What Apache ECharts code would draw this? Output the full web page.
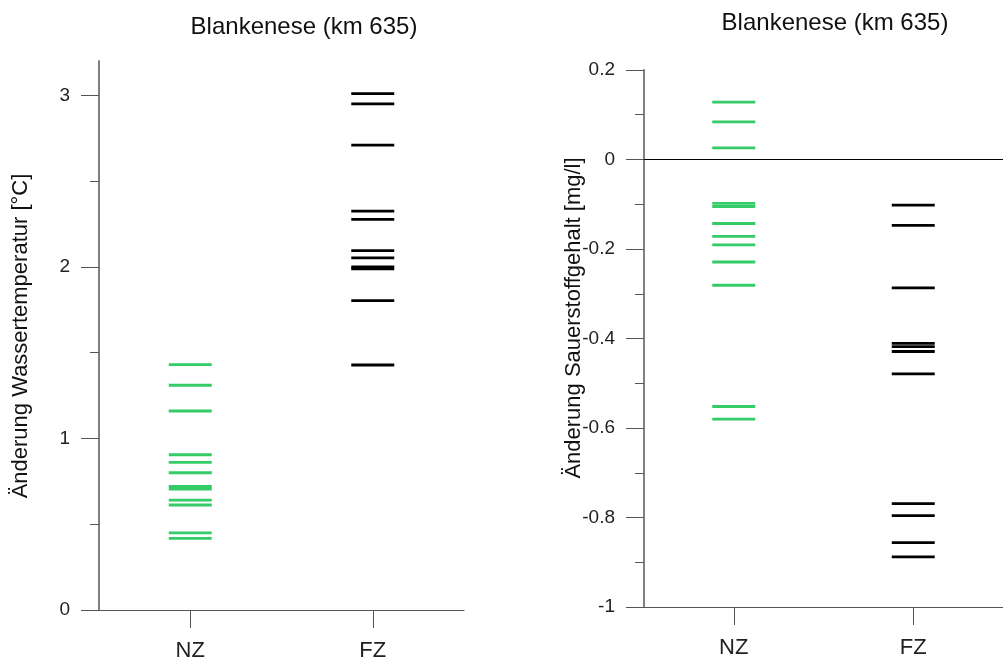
<!DOCTYPE html>
<html>
<head>
<meta charset="utf-8">
<script src="https://cdn.jsdelivr.net/npm/echarts@6/dist/echarts.min.js"></script>
<style>
  html, body { margin: 0; padding: 0; background: #fff; }
  #chart { width: 1003px; height: 662px; }
</style>
</head>
<body>
<div id="chart"></div>
<script>
// Kategorien
var categories = ['NZ', 'FZ'];

// Änderung Wassertemperatur [°C]
var tempNZ = [1.43, 1.31, 1.16, 0.905, 0.86, 0.80, 0.72, 0.705, 0.64, 0.612, 0.45, 0.417];
var tempFZ = [3.01, 2.95, 2.71, 2.325, 2.277, 2.095, 2.053, 2.0, 1.988, 1.803, 1.428];
var tempTicks = [0, 1, 2, 3];
var tempMinorTicks = [0.5, 1.5, 2.5];

// Änderung Sauerstoffgehalt [mg/l]
var oxyNZ = [0.128, 0.084, 0.026, -0.098, -0.105, -0.143, -0.172, -0.191, -0.229, -0.281, -0.552, -0.580];
var oxyFZ = [-0.102, -0.147, -0.287, -0.411, -0.418, -0.429, -0.479, -0.769, -0.796, -0.856, -0.888];

var FONT = '"Liberation Sans", Arial, sans-serif';
var GREEN = '#33cc66';

function toPoints(cat, values) {
  return values.map(function (v) { return [cat, v]; });
}

function xAxisOpt(gridIndex) {
  return {
    type: 'category',
    gridIndex: gridIndex,
    data: categories,
    boundaryGap: true,
    axisLine: { onZero: false, lineStyle: { color: '#555', width: 1.2 } },
    axisTick: { show: true, interval: 0, alignWithLabel: true, length: 18, lineStyle: { color: '#555', width: 1 } },
    axisLabel: { margin: 30, color: '#222', fontSize: 22, fontFamily: FONT },
    splitLine: { show: false }
  };
}

function yAxisOpt(gridIndex, min, max, interval) {
  return {
    type: 'value',
    gridIndex: gridIndex,
    min: min,
    max: max,
    interval: interval,
    axisLine: { show: true, onZero: false, lineStyle: { color: '#808080', width: 2 } },
    axisTick: { show: true, length: 18, lineStyle: { color: '#555', width: 1 } },
    minorTick: { show: true, splitNumber: 2, length: 9, lineStyle: { color: '#555', width: 1 } },
    axisLabel: { margin: 29, color: '#222', fontSize: 19, fontFamily: FONT },
    splitLine: { show: false }
  };
}

function dashSeries(xi, yi, cat, values, color) {
  return {
    type: 'scatter',
    xAxisIndex: xi,
    yAxisIndex: yi,
    symbol: 'rect',
    symbolSize: [43, 2.8],
    itemStyle: { color: color, opacity: 1 },
    emphasis: { disabled: true },
    data: toPoints(cat, values)
  };
}

// linke Achse: Haupt- und Nebenstriche getrennt, ohne Strich bei 3.2
var tempAxis = yAxisOpt(0, 0, 3.2, 1);
tempAxis.minorTick = { show: false };
tempAxis.axisTick.customValues = tempTicks;
tempAxis.axisLabel.customValues = tempTicks;

var tempMinorAxis = {
  type: 'value',
  gridIndex: 0,
  position: 'left',
  min: 0,
  max: 3.2,
  axisLine: { show: false },
  axisTick: { show: true, length: 9, customValues: tempMinorTicks, lineStyle: { color: '#555', width: 1 } },
  axisLabel: { show: false },
  splitLine: { show: false }
};

var chart = echarts.init(document.getElementById('chart'), null, { renderer: 'canvas' });

var zeroLineSeries = dashSeries(1, 1, 'NZ', oxyNZ, GREEN);
zeroLineSeries.markLine = {
  silent: true,
  symbol: 'none',
  label: { show: false },
  lineStyle: { color: '#000', width: 1, type: 'solid' },
  data: [{ yAxis: 0 }]
};

var option = {
  backgroundColor: '#fff',
  animation: false,
  title: [
    { text: 'Blankenese (km 635)', left: 299, top: 10, textAlign: 'center',
      textStyle: { fontSize: 24, fontWeight: 'normal', color: '#111', fontFamily: FONT } },
    { text: 'Blankenese (km 635)', left: 830, top: 6, textAlign: 'center',
      textStyle: { fontSize: 24, fontWeight: 'normal', color: '#111', fontFamily: FONT } }
  ],
  grid: [
    { left: 99, top: 61, width: 365, height: 549 },
    { left: 644, top: 70, width: 360, height: 537 }
  ],
  xAxis: [xAxisOpt(0), xAxisOpt(1)],
  yAxis: [tempAxis, yAxisOpt(1, -1, 0.2, 0.2), tempMinorAxis],
  graphic: [
    { type: 'text', x: 21, y: 336, rotation: Math.PI / 2,
      style: { text: 'Änderung Wassertemperatur [°C]', fill: '#111', font: '22px ' + FONT,
        align: 'center', verticalAlign: 'middle' } },
    { type: 'text', x: 574, y: 318, rotation: Math.PI / 2,
      style: { text: 'Änderung Sauerstoffgehalt [mg/l]', fill: '#111', font: '22px ' + FONT,
        align: 'center', verticalAlign: 'middle' } }
  ],
  series: [
    dashSeries(0, 0, 'NZ', tempNZ, GREEN),
    dashSeries(0, 0, 'FZ', tempFZ, '#000'),
    zeroLineSeries,
    dashSeries(1, 1, 'FZ', oxyFZ, '#000')
  ]
};

chart.setOption(option);
</script>
</body>
</html>
